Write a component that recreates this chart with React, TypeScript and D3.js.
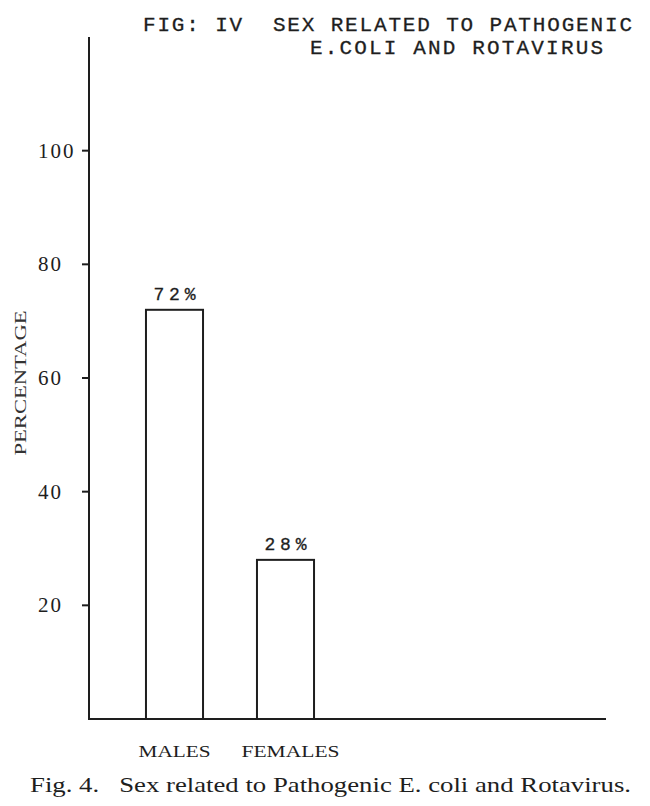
import React from "react";
import * as d3 from "d3";

const categories = ["MALES", "FEMALES"];
const values = [72, 28];
const valueLabels = ["72%", "28%"];
const yTicks = [20, 40, 60, 80, 100];
const titleLines = ["FIG: IV  SEX RELATED TO PATHOGENIC", "E.COLI AND ROTAVIRUS"];
const caption = "Fig. 4.   Sex related to Pathogenic E. coli and Rotavirus.";
const yLabel = "PERCENTAGE";

export default function App() {
  const W = 650, H = 806;
  const x0 = 89, x1 = 606, yBase = 719, yTop = 37;
  const y = d3.scaleLinear().domain([0, 120]).range([yBase, yTop]);
  const x = d3.scaleBand<string>().domain(categories).range([119, 341]).paddingInner(0.486).paddingOuter(0.243);
  const ink = "#1e1e1e";
  return (
    <svg width={W} height={H} style={{ position: "absolute", left: 0, top: 0, background: "#fff" }}>
      <text x={143} y={31} fontFamily="Liberation Mono" fontSize={21} fill={ink} stroke={ink} strokeWidth={0.3} textLength={489} lengthAdjust="spacing" xmlSpace="preserve">{titleLines[0]}</text>
      <text x={310} y={54} fontFamily="Liberation Mono" fontSize={21} fill={ink} stroke={ink} strokeWidth={0.3} textLength={293} lengthAdjust="spacing">{titleLines[1]}</text>
      {/* axes */}
      <line x1={x0} x2={x0} y1={yTop} y2={yBase + 1} stroke={ink} strokeWidth={2} />
      <line x1={x0} x2={x1} y1={yBase} y2={yBase} stroke={ink} strokeWidth={2} />
      {yTicks.map((t) => (
        <g key={t}>
          <line x1={x0 - 7} x2={x0} y1={y(t)} y2={y(t)} stroke={ink} strokeWidth={2} />
          <text x={38} y={y(t)} dominantBaseline="central" fontFamily="Liberation Serif" fontSize={21} letterSpacing={2} fill={ink}>{t}</text>
        </g>
      ))}
      <text transform={`translate(26,383) rotate(-90)`} textAnchor="middle" fontFamily="Liberation Serif" fontSize={17} fill="#333" textLength={145} lengthAdjust="spacingAndGlyphs">{yLabel}</text>
      {categories.map((c, i) => (
        <g key={c}>
          <rect x={x(c)!} y={y(values[i])} width={x.bandwidth()} height={yBase - y(values[i])} fill="#fff" stroke={ink} strokeWidth={2} />
          <text x={x(c)! + x.bandwidth() / 2} y={y(values[i]) - 10} textAnchor="middle" fontFamily="Liberation Mono" fontSize={18} fill={ink} stroke={ink} strokeWidth={0.3} textLength={42} lengthAdjust="spacing">{valueLabels[i]}</text>
          <text x={x(c)! + x.bandwidth() / 2 + (i === 1 ? 5 : 0)} y={757} textAnchor="middle" fontFamily="Liberation Serif" fontSize={17} fill={ink} textLength={i === 0 ? 72 : 98} lengthAdjust="spacingAndGlyphs">{c}</text>
        </g>
      ))}
      <text x={30} y={792} fontFamily="Liberation Serif" fontSize={21} fill={ink} textLength={601} lengthAdjust="spacingAndGlyphs" xmlSpace="preserve">{caption}</text>
    </svg>
  );
}
